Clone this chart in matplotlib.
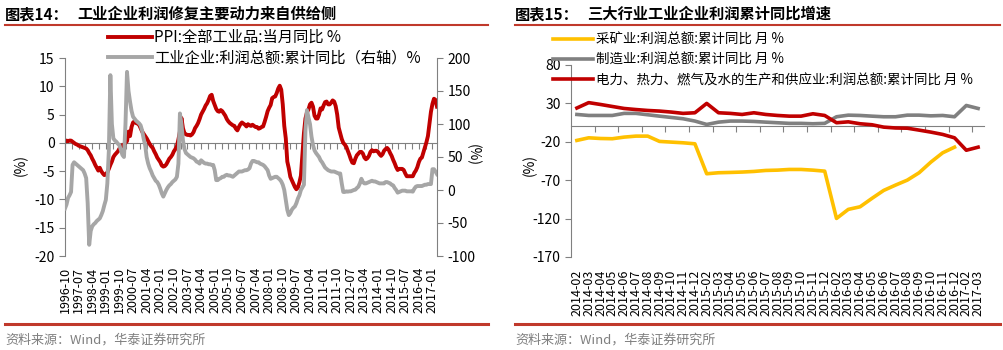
import numpy as np
import pandas as pd
import matplotlib
matplotlib.use('Agg')
import matplotlib.pyplot as plt
from matplotlib.lines import Line2D

plt.rcParams['font.family'] = ['Noto Sans CJK SC', 'DejaVu Sans']
plt.rcParams['axes.unicode_minus'] = False

# ---- 图表14 数据（1996-10 ~ 2017-04，月度）----
months_left = pd.period_range('1996-10', '2017-04', freq='M').strftime('%Y-%m').tolist()

ppi = [
    0.2, 0.4, 0.3,
    0.4, 0.4, 0.2, 0.0, -0.2, -0.3, -0.5, -0.6, -0.7, -0.8, -0.9, -1.0,
    -1.3, -1.8, -2.2, -2.8, -3.3, -3.9, -4.4, -4.9, -4.4, -5.0, -5.4, -5.7,
    -5.6, -5.2, -4.6, -3.9, -3.3, -2.5, -2.1, -1.8, -1.5, -1.0, -0.8, -0.4,
    -0.3, 0.0, 0.3, 2.0, 1.2, 2.8, 3.6, 3.8, 3.5, 3.4, 3.2, 2.6,
    2.0, 1.6, 1.2, 0.8, 0.3, -0.2, -0.6, -0.9, -1.5, -2.0, -2.6, -3.0,
    -3.4, -4.0, -4.2, -4.1, -3.8, -3.3, -2.8, -2.5, -2.1, -1.5, -1.1, -0.6,
    0.6, 2.0, 4.4, 2.6, 1.7, 1.5, 1.4, 1.4, 1.3, 1.5, 1.9, 2.6,
    3.0, 3.5, 4.2, 5.0, 5.5, 6.0, 6.6, 7.0, 7.6, 8.3, 8.5, 7.4,
    6.7, 6.0, 5.6, 5.5, 5.8, 5.6, 5.2, 4.8, 4.2, 3.8, 3.5, 3.3,
    3.1, 3.0, 2.5, 2.2, 2.8, 3.3, 3.6, 3.4, 3.2, 2.9, 3.3, 3.1,
    3.0, 3.2, 3.0, 2.8, 2.8, 2.5, 2.6, 2.8, 2.9, 3.7, 4.6, 5.6,
    6.2, 6.7, 7.9, 8.1, 8.2, 8.8, 9.6, 10.1, 9.4, 6.8, 3.0, 0.8,
    -3.3, -4.5, -6.0, -6.6, -7.2, -7.8, -8.2, -7.9, -7.0, -5.8, -2.1, 1.7,
    4.3, 5.4, 5.9, 6.8, 7.1, 6.4, 4.8, 4.3, 4.3, 5.0, 6.1, 5.9,
    6.6, 7.2, 7.3, 6.8, 6.8, 7.1, 7.5, 7.3, 6.5, 5.0, 2.7, 1.7,
    0.7, 0.0, -0.3, -0.7, -1.4, -2.1, -2.9, -3.5, -3.6, -2.8, -2.2, -1.9,
    -1.6, -1.6, -1.9, -2.6, -2.9, -2.7, -2.3, -1.6, -1.3, -1.5, -1.4, -1.4,
    -1.6, -2.0, -2.3, -2.0, -1.4, -1.1, -0.9, -1.2, -1.8, -2.3, -3.0, -3.6,
    -4.3, -4.8, -4.6, -4.6, -4.6, -4.8, -5.4, -5.9, -5.9, -5.9, -5.9, -5.9,
    -5.3, -4.9, -4.3, -3.4, -2.8, -2.6, -1.7, -0.8, 0.1, 1.2, 3.3, 5.5,
    6.9, 7.8, 7.6, 6.4,
]

profit = [
    -28, -22, -12,
    -8, -3, 38, 42, 40, 38, 36, 34, 32, 30, 25, 18,
    -20, -83, -62, -55, -52, -50, -47, -45, -43, -38, -32, -23,
    -15, 10, 60, 174, 100, 78, 75, 73, 70, 68, 60, 53,
    50, 100, 179, 150, 134, 120, 111, 108, 105, 103, 101, 98,
    90, 78, 68, 50, 40, 33, 28, 22, 18, 14, 12, 8,
    2, -5, -10, -5, 0, 4, 7, 9, 12, 14, 16, 20,
    40, 116, 100, 75, 62, 56, 54, 52, 50, 49, 48, 46,
    43, 42, 40, 45, 43, 41, 40, 40, 39, 39, 38, 38,
    30, 15, 15, 17, 18, 20, 20, 22, 23, 22, 22, 21,
    20, 22, 24, 26, 28, 28, 28, 29, 30, 30, 31, 33,
    40, 44, 44, 43, 42, 42, 40, 39, 38, 36, 33, 30,
    22, 17, 18, 19, 20, 20, 18, 16, 13, 8, 0, -15,
    -30, -38, -35, -30, -27, -25, -20, -13, -8, 0, 4, 8,
    90, 121, 110, 100, 81, 68, 60, 56, 53, 50, 45, 42,
    38, 34, 32, 30, 29, 28, 28, 28, 27, 26, 25, 25,
    10, -3, -3, -2, -2.5, -2, -2, -1, 0, 0.5, 3, 5,
    10, 17, 12, 10, 10, 11, 12, 13, 14, 13, 13, 12,
    11, 10, 10, 10, 10, 12, 12, 11, 10, 8, 7, 3,
    0, -4, -3, -2, -1, -1, -1, -2, -2, -2, -2, -2.5,
    2, 5, 6, 6, 6, 6, 7, 8, 8, 9, 9, 9,
    31.5, 31.5, 28, 24,
]

# ---- 图表15 数据 ----
months_right = [
    '2014-02', '2014-03', '2014-04', '2014-05', '2014-06', '2014-07', '2014-08',
    '2014-09', '2014-10', '2014-11', '2014-12',
    '2015-02', '2015-03', '2015-04', '2015-05', '2015-06', '2015-07', '2015-08',
    '2015-09', '2015-10', '2015-11', '2015-12',
    '2016-02', '2016-03', '2016-04', '2016-05', '2016-06', '2016-07', '2016-08',
    '2016-09', '2016-10', '2016-11', '2016-12',
    '2017-02', '2017-03',
]
mining = [-18.2, -14.8, -15.7, -16, -13.9, -12.6, -12.6, -19.5, -20.4, -21.3, -22.6,
          -61.6, -60.3, -59.9, -59.4, -58.6, -57.3, -56.9, -56, -56, -56.9, -58.2,
          -119.8, -108, -104.6, -93.7, -83.3, -76.4, -69.9, -60.3, -46.4, -34.3, -27,
          np.nan, np.nan]
manufacturing = [15.6, 14.3, 14.3, 14.3, 17, 17, 15.2, 13.4, 11.7, 10, 7,
                 2.6, 5.6, 7, 7, 6.5, 5.6, 4.8, 4, 4, 3.5, 4,
                 12.6, 14.7, 14.3, 13.4, 12.6, 12.6, 14.7, 14.7, 13.8, 14.3, 12.6,
                 27.3, 23.4]
utilities = [24, 31, 28.6, 26, 23.4, 22, 20.8, 20, 18.7, 17, 17.8,
             30, 17.8, 17, 15.6, 17.8, 15.6, 14.3, 13.4, 13.4, 16.5, 14.3,
             4.8, 6, 3.5, 2.2, -0.9, -2, -2.3, -4.8, -7.4, -10.4, -14.8,
             -31, -27]

RED = '#C00000'
GREY_L = '#A6A6A6'
SPINE = '#808080'
W, H = 1004, 350

fig = plt.figure(figsize=(W / 100, H / 100), dpi=100)


def fx(px):
    return px / W


def fy(py):
    return 1 - py / H


def zero_axis(parent, frac, ticks):
    # 零值处的横轴线（刻度线朝下，无标签）
    sec = parent.secondary_xaxis(frac)
    sec.set_alignment('bottom')
    sec.set_xticks(ticks)
    sec.set_xticklabels([])
    sec.tick_params(axis='x', direction='out', length=4, color=SPINE,
                    labelbottom=False, labeltop=False)
    sec.spines['bottom'].set_color(SPINE)
    return sec


# 标题与分隔线
for x0, x1, tag, title in [(5, 488, '图表14：', '工业企业利润修复主要动力来自供给侧'),
                           (515, 1000, '图表15：', '三大行业工业企业利润累计同比增速')]:
    fig.text(fx(x0), fy(14), tag, fontsize=11, fontweight='bold', va='center')
    fig.text(fx(x0 + 72), fy(14), title, fontsize=11, fontweight='bold', va='center')
    fig.add_artist(Line2D([fx(x0), fx(x1)], [fy(25), fy(25)], color='#C0392B', lw=1.5))
    fig.add_artist(Line2D([fx(x0), fx(x1)], [fy(324), fy(324)], color='#C0392B', lw=2.2))
    fig.text(fx(x0), fy(340), '资料来源：Wind，华泰证券研究所', fontsize=9.4,
             color='#7F7F7F', va='center')

# ---- 左图 ----
ax = fig.add_axes([fx(65), fy(256), fx(372), 198 / H])
x = np.arange(len(ppi))
l1, = ax.plot(x, ppi, color=RED, lw=2.8)
ax.set_ylim(-20, 15)
ax.set_yticks(np.arange(-20, 16, 5))
ax.set_xlim(0, len(ppi) - 1)
ax.set_xticks(x[::9])
ax.set_xticklabels(months_left[::9], rotation=90, fontsize=9)
ax.tick_params(axis='x', length=0, pad=8)
ax.tick_params(axis='y', labelsize=10, color=SPINE, length=4)
for s in ['top', 'right', 'bottom']:
    ax.spines[s].set_visible(False)
ax.spines['left'].set_color(SPINE)
ax.set_ylabel('(%)', fontsize=10)
ax.yaxis.set_label_coords((28 - 65) / 372, (256 - 165) / 198)

zero_axis(ax, 20 / 35, np.arange(0, len(ppi), 4.5))

ax2 = ax.twinx()
l2, = ax2.plot(x, profit, color=GREY_L, lw=2.8)
ax2.set_ylim(-100, 200)
ax2.set_yticks(np.arange(-100, 201, 50))
ax2.tick_params(axis='y', labelsize=10, color=SPINE, length=4)
for s in ['top', 'left', 'bottom']:
    ax2.spines[s].set_visible(False)
ax2.spines['right'].set_color(SPINE)
ax2.set_ylabel('(%)', fontsize=10, rotation=-90)
ax2.yaxis.set_label_coords((480 - 65) / 372, (256 - 155) / 198)

fig.legend([l1, l2], ['PPI:全部工业品:当月同比 %', '工业企业:利润总额:累计同比（右轴）%'],
           loc='upper left', bbox_to_anchor=(fx(108), fy(29)), frameon=False,
           fontsize=11, handlelength=2.9, handletextpad=0.1, labelspacing=0.2,
           borderpad=0, borderaxespad=0)

# ---- 右图 ----
bx = fig.add_axes([fx(571), fy(257), fx(413), 192 / H])
xr = np.arange(len(months_right))
m1, = bx.plot(xr, mining, color='#FFC000', lw=2.6)
m2, = bx.plot(xr, manufacturing, color='#808080', lw=2.6)
m3, = bx.plot(xr, utilities, color=RED, lw=2.6)
bx.set_ylim(-170, 80)
bx.set_yticks(np.arange(-170, 81, 50))
bx.set_xlim(-0.5, len(months_right) - 0.5)
bx.set_xticks(xr)
bx.set_xticklabels(months_right, rotation=90, fontsize=9)
bx.tick_params(axis='x', length=0, pad=9)
bx.tick_params(axis='y', labelsize=10, color=SPINE, length=4)
for s in ['top', 'right', 'bottom']:
    bx.spines[s].set_visible(False)
bx.spines['left'].set_color(SPINE)
bx.set_ylabel('(%)', fontsize=10)
bx.yaxis.set_label_coords((537 - 571) / 413, (257 - 165) / 192)

zero_axis(bx, 170 / 250, np.arange(1.5, len(months_right), 2))

fig.legend([m1, m2, m3],
           ['采矿业:利润总额:累计同比 月 %', '制造业:利润总额:累计同比 月 %',
            '电力、热力、燃气及水的生产和供应业:利润总额:累计同比 月 %'],
           loc='upper left', bbox_to_anchor=(fx(553), fy(33)), frameon=False,
           fontsize=9.7, handlelength=3.0, handletextpad=0.2, labelspacing=0.45,
           borderpad=0, borderaxespad=0)

fig.savefig('out.png', dpi=100, facecolor='white')
